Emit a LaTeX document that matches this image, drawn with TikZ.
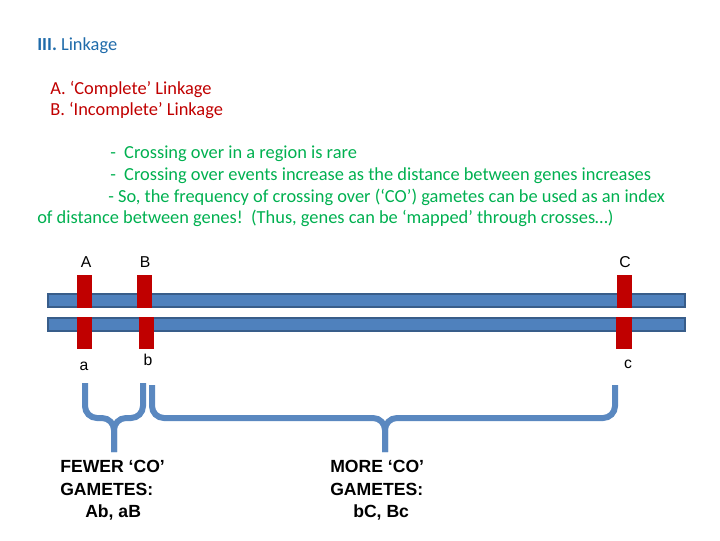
\documentclass[tikz,border=0pt]{standalone}
\usepackage{fontspec}
\setmainfont{Carlito}
\newfontfamily\arialfont{Liberation Sans}
\definecolor{titleblue}{HTML}{1F6BAA}
\definecolor{linkred}{HTML}{C00000}
\definecolor{notegreen}{HTML}{00B050}
\definecolor{chromfill}{HTML}{4F81BD}
\definecolor{chromline}{HTML}{385D8A}
\definecolor{bracecol}{HTML}{5A88C0}
\tikzset{
  note/.style={anchor=base west, inner sep=0pt, font=\fontsize{13.8}{16}\selectfont},
  allele/.style={anchor=center, inner sep=0pt, font=\arialfont\fontsize{11.8}{14}\selectfont},
  gamete/.style={anchor=base west, inner sep=0pt, font=\arialfont\bfseries\fontsize{13.2}{15}\selectfont},
  chrom/.style={fill=chromfill, draw=chromline, line width=2pt},
  locus/.style={fill=linkred},
  brace/.style={draw=bracecol, line width=4.5pt, rounded corners=9pt}
}
\begin{document}
\begin{tikzpicture}[x=0.75pt, y=-0.75pt]
  \useasboundingbox (0,0) rectangle (720,540);

  % headings
  \node[note, titleblue] (title) at (37,50) {\textbf{III.} Linkage};
  \node[note, linkred] (compl) at (50,94) {A. ‘Complete’ Linkage};
  \node[note, linkred] (incompl) at (50,115) {B. ‘Incomplete’ Linkage};

  % notes
  \node[note, notegreen] (rare) at (110,158) {-\ \ Crossing over in a region is rare};
  \node[note, notegreen] (incr) at (110,180) {-\ \ Crossing over events increase as the distance between genes increases};
  \node[note, notegreen] (index) at (108,202) {- So, the frequency of crossing over (‘CO’) gametes can be used as an index};
  \node[note, notegreen] (mapped) at (37,223) {of distance between genes!\ \ (Thus, genes can be ‘mapped’ through crosses…)};

  % homologous chromosomes
  \draw[chrom] (48,294) rectangle (685,307);
  \draw[chrom] (48,318) rectangle (685,331);

  % loci
  \fill[locus] (77,275) rectangle (92,308);
  \fill[locus] (77,317) rectangle (92,349);
  \fill[locus] (137,275) rectangle (152,308);
  \fill[locus] (139,317) rectangle (154,349);
  \fill[locus] (617,275) rectangle (632,308);
  \fill[locus] (616,317) rectangle (632,349);

  \node[allele] (bigA) at (86,262.5) {A};
  \node[allele] (bigB) at (145,262.5) {B};
  \node[allele] (bigC) at (625,262.5) {C};
  \node[allele] (smalla) at (84,366) {a};
  \node[allele] (smallb) at (148,360) {b};
  \node[allele] (smallc) at (628,364) {c};

  % braces
  \coordinate (ab1) at (85,383);
  \coordinate (ab2) at (143,383);
  \coordinate (abtip) at (114,452);
  \coordinate (bc1) at (152,385);
  \coordinate (bc2) at (615,385);
  \coordinate (bctip) at (385,452);
  \draw[brace] (ab1) |- (abtip |- 0,418) -- (abtip);
  \draw[brace] (ab2) |- (abtip |- 0,418) -- (abtip);
  \draw[brace] (bc1) |- (bctip |- 0,418) -- (bctip);
  \draw[brace] (bc2) |- (bctip |- 0,418) -- (bctip);

  % gamete classes
  \node[gamete] (few1) at (60,472) {FEWER ‘CO’};
  \node[gamete] (few2) at (60,495) {GAMETES:};
  \node[gamete] (few3) at (85,517) {Ab, aB};
  \node[gamete] (more1) at (330,472) {MORE ‘CO’};
  \node[gamete] (more2) at (330,495) {GAMETES:};
  \node[gamete] (more3) at (353,517) {bC, Bc};
\end{tikzpicture}
\end{document}
